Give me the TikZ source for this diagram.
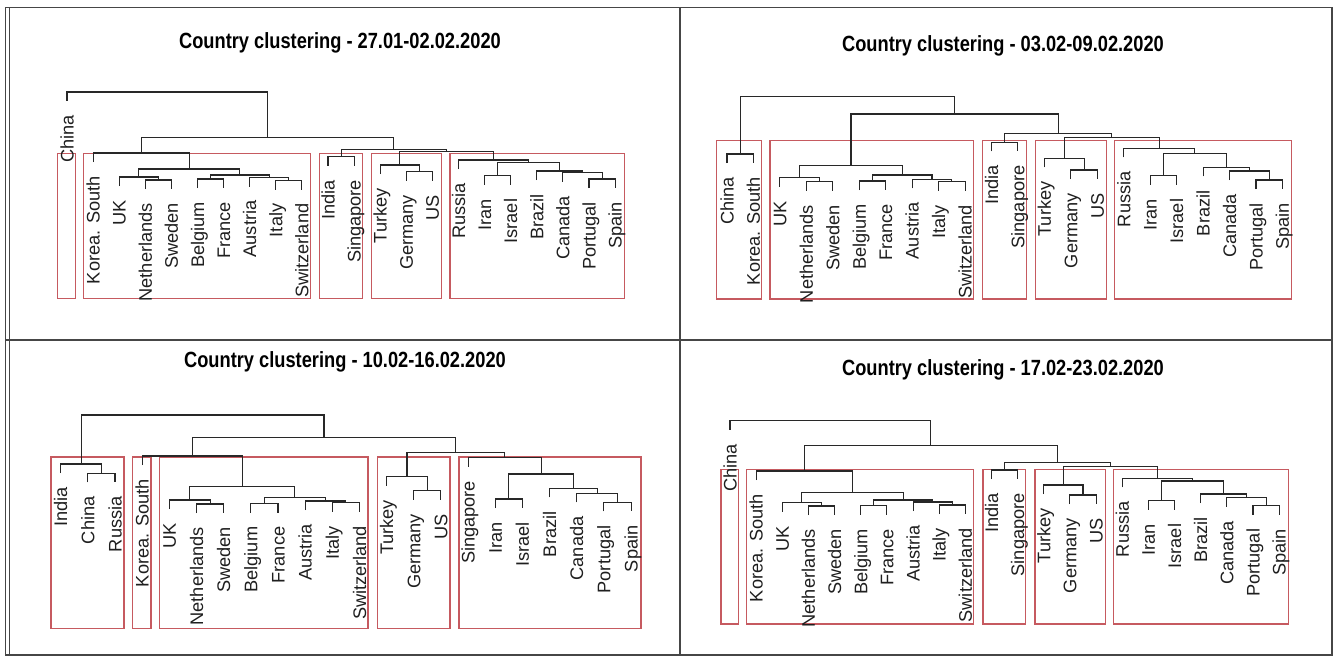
\documentclass[tikz,border=0pt]{standalone}
\usepackage{fontspec}
\setmainfont{Liberation Sans}
\usepackage{graphicx}
\definecolor{boxred}{RGB}{198,90,96}
\definecolor{frm}{RGB}{70,70,70}
\definecolor{dk}{RGB}{40,40,40}
\newcommand\lblfont{\fontsize{18.2}{20}\selectfont}
\newcommand\ttlfont{\fontsize{22}{24}\selectfont\bfseries}
\newcommand\mrg[3]{\draw[dl] (#2) |- (#1) -| (#3);}
\newcommand\lf[4]{\coordinate (#1) at (#2,#3); \node[lbl] (#1t) at ([yshift=-14pt]#1) {#4};}
\newcommand\ttl[2]{\scalebox{0.83}[1]{Country clustering - #2}}
\begin{document}
\begin{tikzpicture}[x=1pt,y=-1pt,
  dl/.style={draw=dk, line width=1.05pt},
  lbl/.style={rotate=90, anchor=east, inner sep=0pt, font=\lblfont, text=black!88, text height=13pt, text depth=0pt},
  ttlnode/.style={inner sep=0pt, font=\ttlfont, text=black},
  rbox/.style={draw=boxred, line width=1.1pt},
  frame/.style={draw=frm, line width=1.6pt}]
\useasboundingbox (0,0) rectangle (1335,658);
\fill[white] (0,0) rectangle (1335,658);
% frame
\draw[frame] (5.5,7.5) rectangle (1332,655);
\draw[frame, line width=1pt] (9.5,7.5) -- (9.5,655);
\draw[frame] (680,7.5) -- (680,655);
\draw[frame] (5.5,340) -- (1332,340);
% titles
\node[ttlnode] (t1) at (340,43) {\ttl{}{27.01-02.02.2020}};
\node[ttlnode] (t2) at (1003,46) {\ttl{}{03.02-09.02.2020}};
\node[ttlnode] (t3) at (345,362) {\ttl{}{10.02-16.02.2020}};
\node[ttlnode] (t4) at (1003,370) {\ttl{}{17.02-23.02.2020}};
% red boxes
\draw[rbox] (57.8,153.3) rectangle (75.2,298.3);
\draw[rbox] (83.8,153.3) rectangle (310.5,298.3);
\draw[rbox] (319.5,153.3) rectangle (362.2,298.3);
\draw[rbox] (371.8,153.3) rectangle (441.6,298.3);
\draw[rbox] (450,153.3) rectangle (624.4,298.3);
\draw[rbox] (716.8,140.3) rectangle (761.3,299);
\draw[rbox] (770,140.3) rectangle (973.1,299);
\draw[rbox] (982.7,140.3) rectangle (1026.1,299);
\draw[rbox] (1035.3,140.3) rectangle (1106.3,299);
\draw[rbox] (1114.8,140.3) rectangle (1291.8,299);
\draw[rbox] (51,457) rectangle (124,628.3);
\draw[rbox] (132.3,457) rectangle (151,628.3);
\draw[rbox] (159.5,457) rectangle (368,628.3);
\draw[rbox] (377.5,457) rectangle (450,628.3);
\draw[rbox] (459,457) rectangle (641,628.3);
\draw[rbox] (721,469.3) rectangle (738.2,624);
\draw[rbox] (746.5,469.3) rectangle (973.3,624);
\draw[rbox] (983,469.3) rectangle (1025.6,624);
\draw[rbox] (1035,469.3) rectangle (1105.5,624);
\draw[rbox] (1113.3,469.3) rectangle (1288.2,624);
% ---------- panel 1 ----------
\lf{a0}{67}{101}{China}
\lf{a1}{93.1}{162}{Korea. South}
\lf{a2}{119.2}{186}{UK}
\lf{a3}{145.3}{189}{Netherlands}
\lf{a4}{171.4}{189}{Sweden}
\lf{a5}{197.5}{188}{Belgium}
\lf{a6}{223.6}{188}{France}
\lf{a7}{249.7}{186.5}{Austria}
\lf{a8}{275.8}{189.5}{Italy}
\lf{a9}{301.9}{189.5}{Switzerland}
\lf{a10}{328}{165.7}{India}
\lf{a11}{354.1}{165.7}{Singapore}
\lf{a12}{380.2}{174}{Turkey}
\lf{a13}{406.3}{180.7}{Germany}
\lf{a14}{432.4}{180.7}{US}
\lf{a15}{458.5}{169}{Russia}
\lf{a16}{484.6}{184.7}{Iran}
\lf{a17}{510.7}{184.7}{Israel}
\lf{a18}{536.8}{180}{Brazil}
\lf{a19}{562.9}{181.7}{Canada}
\lf{a20}{589}{188}{Portugal}
\lf{a21}{615.1}{188}{Spain}
\coordinate (a-ns) at (158.35,180);
\coordinate (a-ukns) at (138.8,177);
\coordinate (a-bf) at (210.55,179);
\coordinate (a-it) at (288.85,180.5);
\coordinate (a-ait) at (269.3,177.5);
\coordinate (a-bfait) at (239.9,175);
\coordinate (a-eu) at (189.35,169);
\coordinate (a-keu) at (141.2,153);
\coordinate (a-isg) at (341.05,156.7);
\coordinate (a-gu) at (419.35,171.7);
\coordinate (a-tgu) at (399.8,165);
\coordinate (a-ps) at (602.05,179);
\coordinate (a-z) at (582.5,172.7);
\coordinate (a-y) at (559.65,171);
\coordinate (a-ii) at (497.65,175.7);
\coordinate (a-xx) at (528.65,162.3);
\coordinate (a-ru) at (493.6,160);
\coordinate (a-tr) at (446.7,151.7);
\coordinate (a-c) at (393.9,149.5);
\coordinate (a-b) at (267.55,137.7);
\coordinate (a-root) at (167.3,92);
\mrg{a-ns}{a3}{a4}
\mrg{a-ukns}{a2}{a-ns}
\mrg{a-bf}{a5}{a6}
\mrg{a-it}{a8}{a9}
\mrg{a-ait}{a7}{a-it}
\mrg{a-bfait}{a-bf}{a-ait}
\mrg{a-eu}{a-ukns}{a-bfait}
\mrg{a-keu}{a1}{a-eu}
\mrg{a-isg}{a10}{a11}
\mrg{a-gu}{a13}{a14}
\mrg{a-tgu}{a12}{a-gu}
\mrg{a-ps}{a20}{a21}
\mrg{a-z}{a19}{a-ps}
\mrg{a-y}{a18}{a-z}
\mrg{a-ii}{a16}{a17}
\mrg{a-xx}{a-ii}{a-y}
\mrg{a-ru}{a15}{a-xx}
\mrg{a-tr}{a-tgu}{a-ru}
\mrg{a-c}{a-isg}{a-tr}
\mrg{a-b}{a-keu}{a-c}
\mrg{a-root}{a0}{a-b}
% ---------- panel 2 ----------
\lf{b0}{727}{163}{China}
\lf{b1}{753.45}{163}{Korea. South}
\lf{b2}{779.9}{186.7}{UK}
\lf{b3}{806.35}{190.7}{Netherlands}
\lf{b4}{832.8}{190.7}{Sweden}
\lf{b5}{859.25}{190}{Belgium}
\lf{b6}{885.7}{190}{France}
\lf{b7}{912.15}{188.3}{Austria}
\lf{b8}{938.6}{190.7}{Italy}
\lf{b9}{965.05}{190.7}{Switzerland}
\lf{b10}{991.5}{151.3}{India}
\lf{b11}{1017.95}{151.3}{Singapore}
\lf{b12}{1044.4}{167.3}{Turkey}
\lf{b13}{1070.85}{179}{Germany}
\lf{b14}{1097.3}{179}{US}
\lf{b15}{1123.75}{157.3}{Russia}
\lf{b16}{1150.2}{184.7}{Iran}
\lf{b17}{1176.65}{184.7}{Israel}
\lf{b18}{1203.1}{176.3}{Brazil}
\lf{b19}{1229.55}{180}{Canada}
\lf{b20}{1256}{189}{Portugal}
\lf{b21}{1282.45}{189}{Spain}
\coordinate (b-ck) at (740.2,154);
\coordinate (b-ns) at (819.6,181.7);
\coordinate (b-ukns) at (799.75,177.7);
\coordinate (b-bf) at (872.5,181);
\coordinate (b-it) at (951.8,181.7);
\coordinate (b-ait) at (932,179.3);
\coordinate (b-bfait) at (902.2,175);
\coordinate (b-eu) at (851,165.7);
\coordinate (b-isg) at (1004.7,142.3);
\coordinate (b-gu) at (1084.1,170);
\coordinate (b-tgu) at (1064.2,158.3);
\coordinate (b-ps) at (1269.2,180);
\coordinate (b-z) at (1249.4,171);
\coordinate (b-y) at (1226.2,167.3);
\coordinate (b-ii) at (1163.4,175.7);
\coordinate (b-xx) at (1194.8,153.3);
\coordinate (b-ru) at (1159.3,148.3);
\coordinate (b-tr) at (1111.7,137.3);
\coordinate (b-c) at (1058.2,133.3);
\coordinate (b-b) at (954.6,114);
\coordinate (b-root) at (847.4,96.7);
\mrg{b-ck}{b0}{b1}
\mrg{b-ns}{b3}{b4}
\mrg{b-ukns}{b2}{b-ns}
\mrg{b-bf}{b5}{b6}
\mrg{b-it}{b8}{b9}
\mrg{b-ait}{b7}{b-it}
\mrg{b-bfait}{b-bf}{b-ait}
\mrg{b-eu}{b-ukns}{b-bfait}
\mrg{b-isg}{b10}{b11}
\mrg{b-gu}{b13}{b14}
\mrg{b-tgu}{b12}{b-gu}
\mrg{b-ps}{b20}{b21}
\mrg{b-z}{b19}{b-ps}
\mrg{b-y}{b18}{b-z}
\mrg{b-ii}{b16}{b17}
\mrg{b-xx}{b-ii}{b-y}
\mrg{b-ru}{b15}{b-xx}
\mrg{b-tr}{b-tgu}{b-ru}
\mrg{b-c}{b-isg}{b-tr}
\mrg{b-b}{b-eu}{b-c}
\mrg{b-root}{b-ck}{b-b}
% ---------- panel 3 ----------
\lf{c0}{60.7}{473}{India}
\lf{c1}{87.9}{482.3}{China}
\lf{c2}{115.0}{482.3}{Russia}
\lf{c3}{142.2}{465}{Korea. South}
\lf{c4}{169.3}{509}{UK}
\lf{c5}{196.5}{513}{Netherlands}
\lf{c6}{223.7}{513}{Sweden}
\lf{c7}{250.8}{512.5}{Belgium}
\lf{c8}{278.0}{512.5}{France}
\lf{c9}{305.1}{510}{Austria}
\lf{c10}{332.3}{511.7}{Italy}
\lf{c11}{359.5}{511.7}{Switzerland}
\lf{c12}{386.6}{485.7}{Turkey}
\lf{c13}{413.8}{499.7}{Germany}
\lf{c14}{440.9}{499.7}{US}
\lf{c15}{468.1}{466.7}{Singapore}
\lf{c16}{495.3}{508}{Iran}
\lf{c17}{522.4}{508}{Israel}
\lf{c18}{549.6}{497.3}{Brazil}
\lf{c19}{576.7}{502.3}{Canada}
\lf{c20}{603.9}{511.3}{Portugal}
\lf{c21}{631.1}{511.3}{Spain}
\coordinate (c-cr) at (101.45,473.3);
\coordinate (c-icr) at (81.1,464);
\coordinate (c-ns) at (210.1,504);
\coordinate (c-ukns) at (189.7,500);
\coordinate (c-bf) at (264.4,503.5);
\coordinate (c-it) at (345.9,502.7);
\coordinate (c-ait) at (325.5,501);
\coordinate (c-bfait) at (294.95,497.7);
\coordinate (c-eu) at (242.3,486.7);
\coordinate (c-keu) at (192.25,456);
\coordinate (c-gu) at (427.35,490.7);
\coordinate (c-tgu) at (407,476.7);
\coordinate (c-ps) at (617.5,502.3);
\coordinate (c-z) at (597.1,493.3);
\coordinate (c-y) at (573.35,488.3);
\coordinate (c-ii) at (508.85,499);
\coordinate (c-xx) at (541.1,474);
\coordinate (c-sx) at (504.6,457.7);
\coordinate (c-tr) at (455.8,452.7);
\coordinate (c-b) at (324,437.3);
\coordinate (c-root) at (202.5,415);
\mrg{c-cr}{c1}{c2}
\mrg{c-icr}{c0}{c-cr}
\mrg{c-ns}{c5}{c6}
\mrg{c-ukns}{c4}{c-ns}
\mrg{c-bf}{c7}{c8}
\mrg{c-it}{c10}{c11}
\mrg{c-ait}{c9}{c-it}
\mrg{c-bfait}{c-bf}{c-ait}
\mrg{c-eu}{c-ukns}{c-bfait}
\mrg{c-keu}{c3}{c-eu}
\mrg{c-gu}{c13}{c14}
\mrg{c-tgu}{c12}{c-gu}
\mrg{c-ps}{c20}{c21}
\mrg{c-z}{c19}{c-ps}
\mrg{c-y}{c18}{c-z}
\mrg{c-ii}{c16}{c17}
\mrg{c-xx}{c-ii}{c-y}
\mrg{c-sx}{c15}{c-xx}
\mrg{c-tr}{c-tgu}{c-sx}
\mrg{c-b}{c-keu}{c-tr}
\mrg{c-root}{c-icr}{c-b}
% ---------- panel 4 ----------
\lf{d0}{730}{429.7}{China}
\lf{d1}{756.15}{480}{Korea. South}
\lf{d2}{782.3}{511.7}{UK}
\lf{d3}{808.45}{515}{Netherlands}
\lf{d4}{834.6}{515}{Sweden}
\lf{d5}{860.75}{514.7}{Belgium}
\lf{d6}{886.9}{514.7}{France}
\lf{d7}{913.05}{511}{Austria}
\lf{d8}{939.2}{514}{Italy}
\lf{d9}{965.35}{514}{Switzerland}
\lf{d10}{991.5}{479}{India}
\lf{d11}{1017.65}{479}{Singapore}
\lf{d12}{1043.8}{494}{Turkey}
\lf{d13}{1069.95}{504}{Germany}
\lf{d14}{1096.1}{504}{US}
\lf{d15}{1122.25}{487.3}{Russia}
\lf{d16}{1148.4}{509.7}{Iran}
\lf{d17}{1174.55}{509.7}{Israel}
\lf{d18}{1200.7}{503}{Brazil}
\lf{d19}{1226.85}{506.7}{Canada}
\lf{d20}{1253}{514.7}{Portugal}
\lf{d21}{1279.15}{514.7}{Spain}
\coordinate (d-ns) at (821.5,506);
\coordinate (d-ukns) at (801.9,502.7);
\coordinate (d-bf) at (873.8,505.7);
\coordinate (d-it) at (952.3,505);
\coordinate (d-ait) at (932.7,502);
\coordinate (d-bfait) at (903.25,500);
\coordinate (d-eu) at (852.6,492.3);
\coordinate (d-keu) at (804.4,471);
\coordinate (d-isg) at (1004.6,470);
\coordinate (d-gu) at (1083,495);
\coordinate (d-tgu) at (1063.4,485);
\coordinate (d-ps) at (1266.1,505.7);
\coordinate (d-z) at (1246.5,497.7);
\coordinate (d-y) at (1223.6,494);
\coordinate (d-ii) at (1161.5,500.7);
\coordinate (d-xx) at (1192.55,481);
\coordinate (d-ru) at (1157.4,478.3);
\coordinate (d-tr) at (1110.4,466.7);
\coordinate (d-c) at (1057.5,462.3);
\coordinate (d-b) at (930.95,445.7);
\coordinate (d-root) at (830.5,420.7);
\mrg{d-ns}{d3}{d4}
\mrg{d-ukns}{d2}{d-ns}
\mrg{d-bf}{d5}{d6}
\mrg{d-it}{d8}{d9}
\mrg{d-ait}{d7}{d-it}
\mrg{d-bfait}{d-bf}{d-ait}
\mrg{d-eu}{d-ukns}{d-bfait}
\mrg{d-keu}{d1}{d-eu}
\mrg{d-isg}{d10}{d11}
\mrg{d-gu}{d13}{d14}
\mrg{d-tgu}{d12}{d-gu}
\mrg{d-ps}{d20}{d21}
\mrg{d-z}{d19}{d-ps}
\mrg{d-y}{d18}{d-z}
\mrg{d-ii}{d16}{d17}
\mrg{d-xx}{d-ii}{d-y}
\mrg{d-ru}{d15}{d-xx}
\mrg{d-tr}{d-tgu}{d-ru}
\mrg{d-c}{d-isg}{d-tr}
\mrg{d-b}{d-keu}{d-c}
\mrg{d-root}{d0}{d-b}
\end{tikzpicture}
\end{document}
